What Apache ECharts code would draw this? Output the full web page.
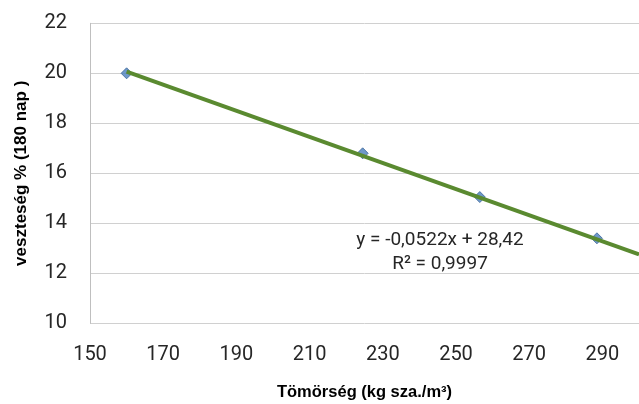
<!DOCTYPE html>
<html>
<head>
<meta charset="utf-8">
<script src="https://cdn.jsdelivr.net/npm/echarts@6/dist/echarts.min.js"></script>
<style>html,body{margin:0;padding:0;background:#fff}#c{width:639px;height:404px}</style>
</head>
<body>
<div id="c"></div>
<script>
const densities = [160, 224.5, 256.5, 288.5];
const losses = [20.0, 16.8, 15.05, 13.4];
const trendSlope = -0.0522;
const trendIntercept = 28.42;
const trendRange = [160, 300];
const xTitle = 'Tömörség (kg sza./m³)';
const yTitle = 'veszteség % (180 nap )';
const eqLine1 = 'y = -0,0522x + 28,42';
const eqLine2 = 'R² = 0,9997';

const chart = echarts.init(document.getElementById('c'), null, {renderer: 'canvas'});
const points = densities.map((d, i) => [d, losses[i]]);
const trend = trendRange.map(x => [x, trendIntercept + trendSlope * x]);
const tickFont = {fontFamily: 'Roboto', fontSize: 20, color: '#262626'};

chart.setOption({
  animation: false,
  grid: {left: 90, right: 0, top: 23.3, bottom: 80.7, containLabel: false, outerBoundsMode: 'none'},
  xAxis: {
    type: 'value', min: 150, max: 300, interval: 20,
    axisLine: {show: false}, axisTick: {show: false},
    splitLine: {show: false},
    axisLabel: Object.assign({margin: 22, showMaxLabel: false,
      formatter: v => ((v - 150) % 20 === 0 && v < 300) ? String(v) : ''}, tickFont),
    name: xTitle, nameLocation: 'middle', nameGap: 61,
    nameTextStyle: {fontFamily: 'Liberation Sans', fontWeight: 'bold', fontSize: 16.5, color: '#000'}
  },
  yAxis: {
    type: 'value', min: 10, max: 22, interval: 2,
    axisLine: {show: true, lineStyle: {color: '#BFBFBF', width: 1}},
    axisTick: {show: false},
    splitLine: {show: true, lineStyle: {color: '#D0D0D0', width: 1}},
    axisLabel: Object.assign({margin: 23}, tickFont),
    name: yTitle, nameLocation: 'middle', nameGap: 60, nameRotate: 90,
    nameTextStyle: {fontFamily: 'Liberation Sans', fontWeight: 'bold', fontSize: 17, color: '#000'}
  },
  series: [
    {
      type: 'scatter', data: points, symbol: 'diamond', symbolSize: 11,
      itemStyle: {color: '#4A7EBB', borderColor: '#3A6499', borderWidth: 1}, z: 2
    },
    {
      type: 'line', data: trend, showSymbol: false, symbol: 'none',
      lineStyle: {color: '#5A8A30', width: 4}, z: 3, clip: true
    }
  ],
  graphic: [
    {type: 'text', x: 440, y: 240, style: {text: eqLine1, font: '19px Roboto', fill: '#262626', textAlign: 'center', textVerticalAlign: 'middle'}},
    {type: 'text', x: 440, y: 264, style: {text: eqLine2, font: '19px Roboto', fill: '#262626', textAlign: 'center', textVerticalAlign: 'middle'}}
  ]
});
</script>
</body>
</html>
